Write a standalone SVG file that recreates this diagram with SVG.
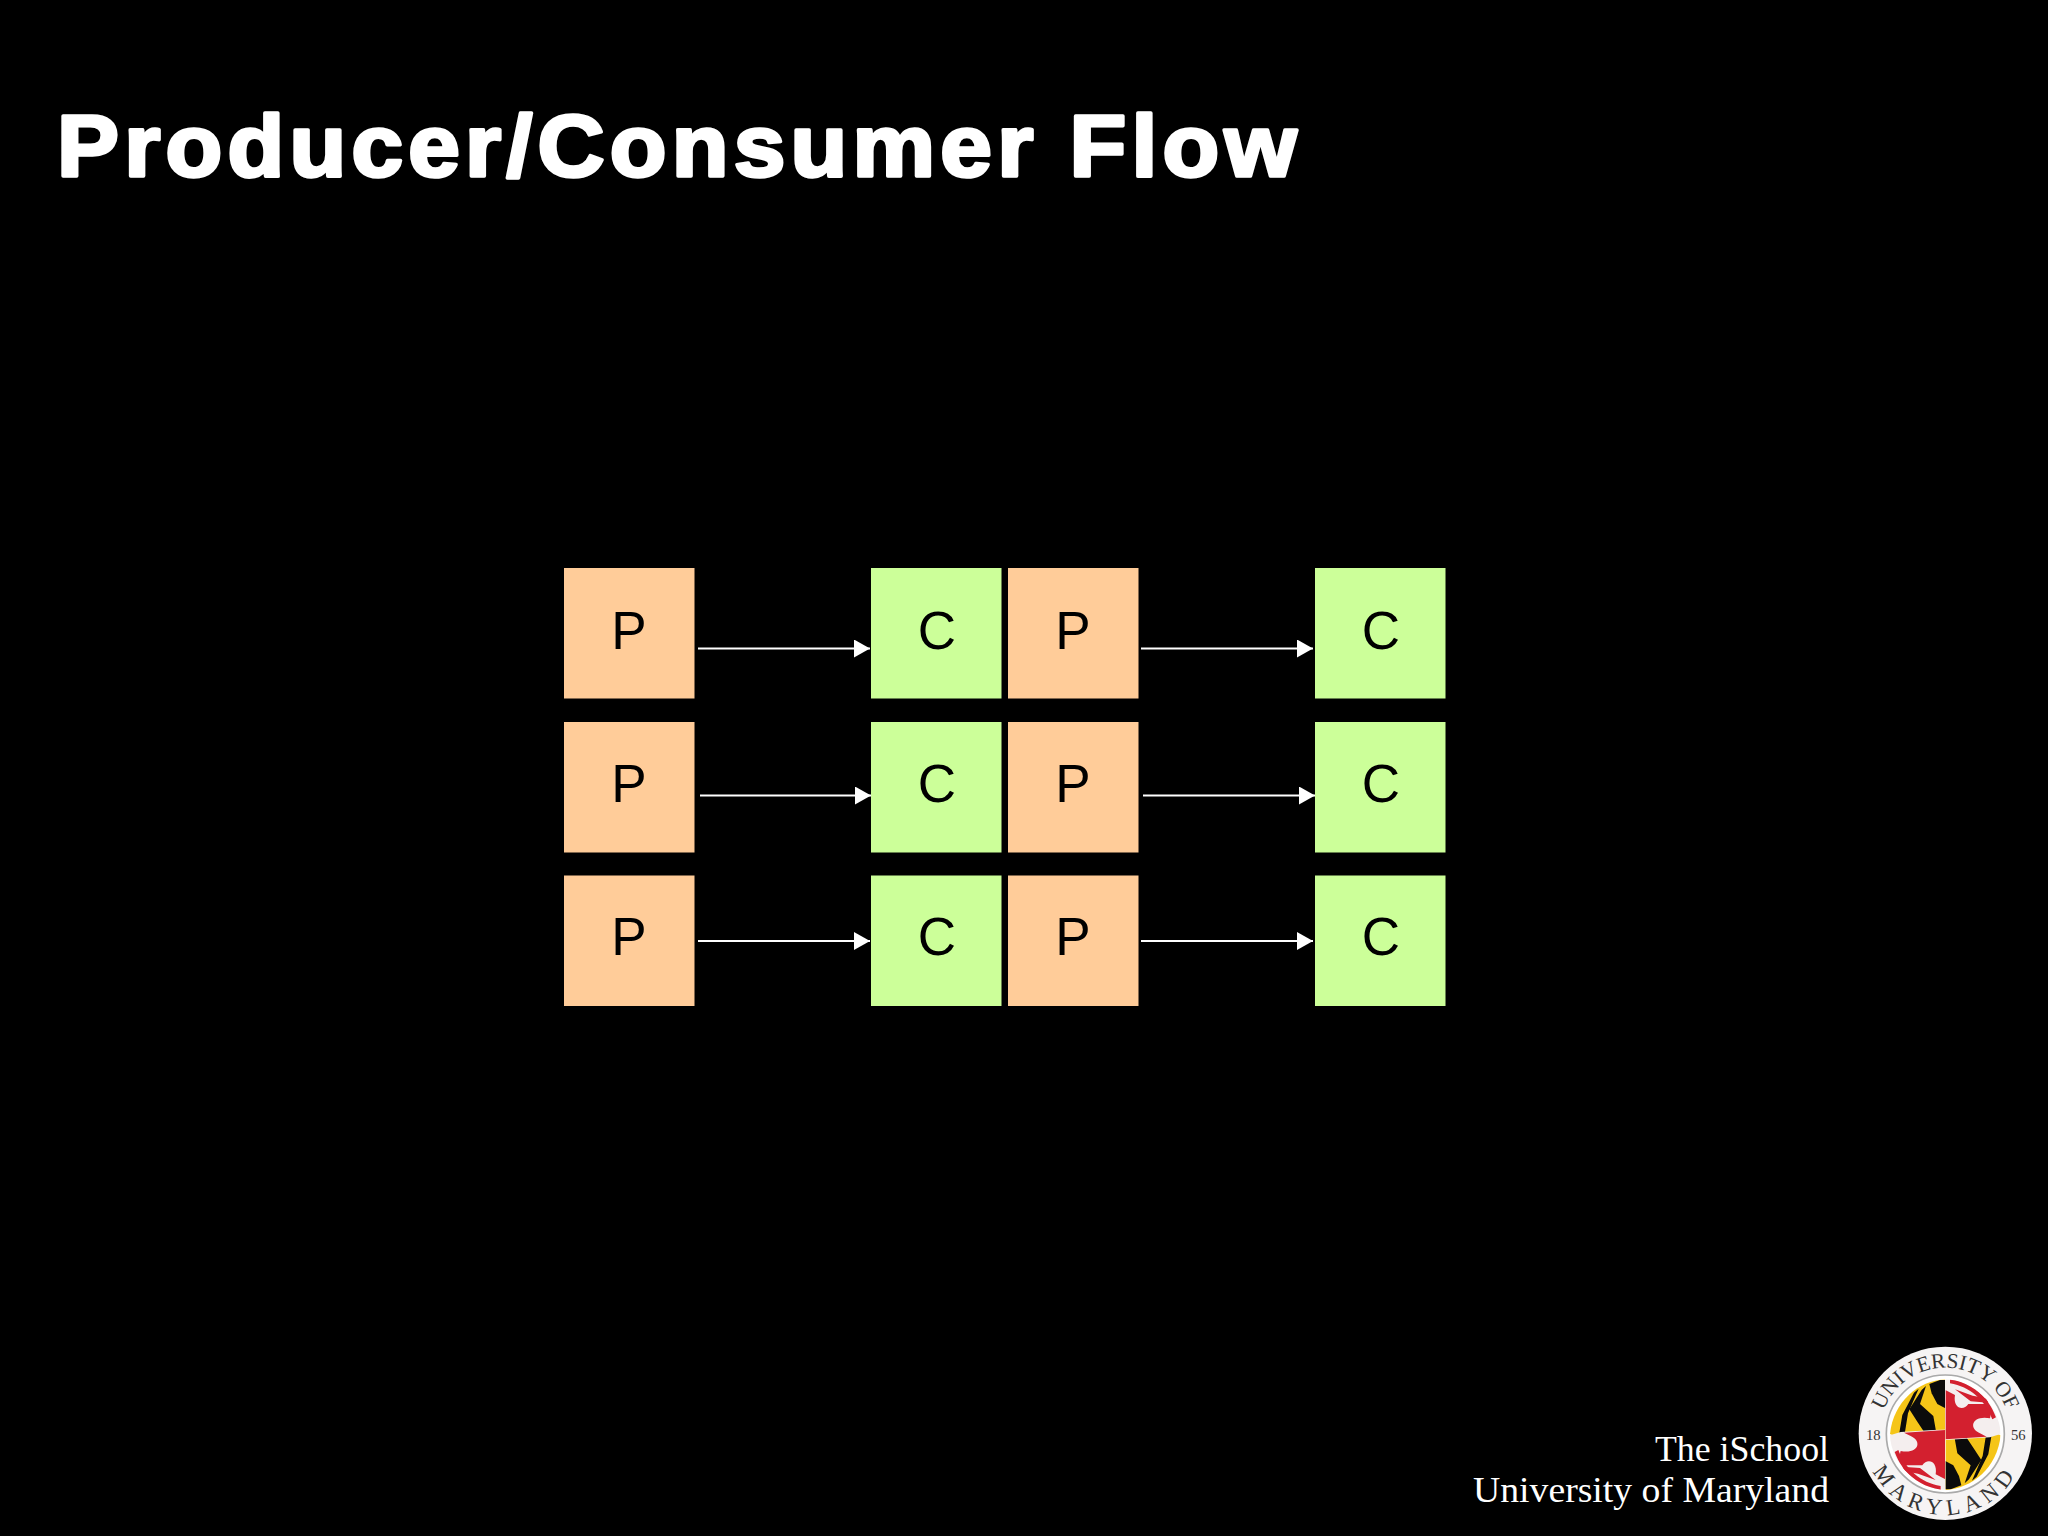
<svg xmlns="http://www.w3.org/2000/svg" xmlns:xlink="http://www.w3.org/1999/xlink" width="2048" height="1536" viewBox="0 0 2048 1536">
<defs>
<marker id="a" markerUnits="userSpaceOnUse" markerWidth="16" markerHeight="18" refX="16" refY="9" orient="auto"><path d="M0 0L16 9L0 18Z" fill="#fff"/></marker>
<path id="arcTopText" d="M119 310A197 197 0 0 1 513 310" fill="none"/>
<path id="arcBottomText" d="M71 310A245 245 0 0 0 561 310" fill="none"/>
<clipPath id="tlClip"><path d="M316 148C235 152 160 215 150 312L178 324L316 330Z"/></clipPath>
<clipPath id="trClip"><path d="M316 148C400 150 478 225 482 312L450 322L316 330Z"/></clipPath>
<g id="qBlack" clip-path="url(#tlClip)">
<path d="M150 330H316V148H150Z" fill="#f5c518"/>
<path d="M176 320L187 255L222 188L236 176L204 250L192 325Z" fill="#0b0b0b"/>
<path d="M208 238L245 180L258 168L240 222L280 258L292 326H266L232 275Z" fill="#0b0b0b"/>
<path d="M268 162L300 150H316V235L292 222L275 190Z" fill="#0b0b0b"/>
</g>
<g id="qRed" clip-path="url(#trClip)">
<path d="M316 148H482V330H316Z" fill="#f4eeee"/>
<path d="M316 180L345 195C338 235 370 245 385 222L440 222C450 240 455 250 450 265C395 255 385 295 420 310L440 320L316 328Z" fill="#d3202f"/>
<path d="M330 148C395 155 445 200 468 262L457 268C435 210 390 170 330 160Z" fill="#d3202f"/>
<path d="M345 178L398 197L440 205L445 218L392 214Z" fill="#d3202f"/>
</g>
</defs>
<style>
.p{fill:#fc9}.c{fill:#cf9}.l{font:53px "Liberation Sans",Arial,sans-serif;text-anchor:middle;fill:#000}
.w{stroke:#fff;stroke-width:2;fill:none;marker-end:url(#a)}
.f{font:36px "Liberation Serif",serif;fill:#fff;text-anchor:start}
.s{font-family:"Liberation Serif",serif;fill:#333}
</style>
<rect width="2048" height="1536" fill="#000"/>
<text x="57" y="176" textLength="1245" lengthAdjust="spacingAndGlyphs" letter-spacing="5" stroke="#fff" stroke-width="3.5" stroke-linejoin="round" style="font:700 88px 'Liberation Sans',Arial,sans-serif" fill="#fff">Producer/Consumer Flow</text>
<g id="connectors">
<path class="w" d="M698 648.5L870 648.5"/><path class="w" d="M1141 648.5L1313 648.5"/>
<path class="w" d="M700 795.5L871 795.5"/><path class="w" d="M1143 795.5L1315 795.5"/>
<path class="w" d="M698 941L870 941"/><path class="w" d="M1141 941L1313 941"/>
</g>
<g id="p1"><rect class="p" x="564" y="568" width="130.5" height="130.5"/><text class="l" x="629" y="648.5">P</text></g>
<g id="c1"><rect class="c" x="871" y="568" width="130.5" height="130.5"/><text class="l" x="937" y="648.5">C</text></g>
<g id="p2"><rect class="p" x="1008" y="568" width="130.5" height="130.5"/><text class="l" x="1073" y="648.5">P</text></g>
<g id="c2"><rect class="c" x="1315" y="568" width="130.5" height="130.5"/><text class="l" x="1381" y="648.5">C</text></g>
<g id="p3"><rect class="p" x="564" y="722" width="130.5" height="130.5"/><text class="l" x="629" y="802">P</text></g>
<g id="c3"><rect class="c" x="871" y="722" width="130.5" height="130.5"/><text class="l" x="937" y="802">C</text></g>
<g id="p4"><rect class="p" x="1008" y="722" width="130.5" height="130.5"/><text class="l" x="1073" y="802">P</text></g>
<g id="c4"><rect class="c" x="1315" y="722" width="130.5" height="130.5"/><text class="l" x="1381" y="802">C</text></g>
<g id="p5"><rect class="p" x="564" y="875.5" width="130.5" height="130.5"/><text class="l" x="629" y="955">P</text></g>
<g id="c5"><rect class="c" x="871" y="875.5" width="130.5" height="130.5"/><text class="l" x="937" y="955">C</text></g>
<g id="p6"><rect class="p" x="1008" y="875.5" width="130.5" height="130.5"/><text class="l" x="1073" y="955">P</text></g>
<g id="c6"><rect class="c" x="1315" y="875.5" width="130.5" height="130.5"/><text class="l" x="1381" y="955">C</text></g>
<text class="f" x="1655" y="1461" textLength="174" lengthAdjust="spacingAndGlyphs">The iSchool</text>
<text class="f" x="1473" y="1502" textLength="356" lengthAdjust="spacingAndGlyphs">University of Maryland</text>
<g id="seal" transform="translate(1840 1330) scale(.3333)">
<circle cx="316" cy="310" r="260" fill="#f6f4f4"/>
<circle cx="316" cy="312" r="177" fill="#fff" stroke="#aaa" stroke-width="5"/>
<use xlink:href="#qBlack" href="#qBlack"/>
<use xlink:href="#qBlack" href="#qBlack" transform="rotate(180 316 314)"/>
<use xlink:href="#qRed" href="#qRed"/>
<use xlink:href="#qRed" href="#qRed" transform="rotate(180 316 314)"/>
<text class="s" font-size="64"><textPath href="#arcTopText" xlink:href="#arcTopText" startOffset="50%" text-anchor="middle">UNIVERSITY OF</textPath></text>
<text class="s" font-size="68" letter-spacing="18"><textPath href="#arcBottomText" xlink:href="#arcBottomText" startOffset="50%" text-anchor="middle">MARYLAND</textPath></text>
<text class="s" font-size="44" x="100" y="330" text-anchor="middle">18</text>
<text class="s" font-size="44" x="535" y="330" text-anchor="middle">56</text>
</g>
</svg>
